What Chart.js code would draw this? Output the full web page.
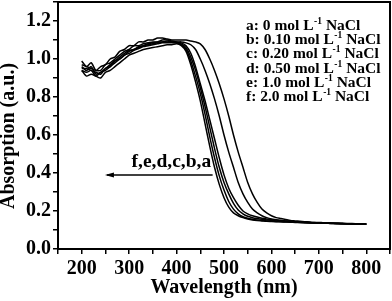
<!DOCTYPE html>
<html>
<head>
<meta charset="utf-8">
<script src="https://cdn.jsdelivr.net/npm/chart.js@4"></script>
<style>
  html, body { margin: 0; padding: 0; background: #fff; }
  #wrap { width: 392px; height: 301px; }
</style>
</head>
<body>
<div id="wrap"><canvas id="chart"></canvas></div>
<script>
// wavelength grid (nm), 200..800 every 10 nm
const wavelength = [
  200, 210, 220, 230, 240, 250, 260, 270, 280, 290,
  300, 310, 320, 330, 340, 350, 360, 370, 380, 390,
  400, 410, 420, 430, 440, 450, 460, 470, 480, 490,
  500, 510, 520, 530, 540, 550, 560, 570, 580, 590,
  600, 610, 620, 630, 640, 650, 660, 670, 680, 690,
  700, 710, 720, 730, 740, 750, 760, 770, 780, 790, 800
];

// absorption of each sample
const absA = [
  0.99, 0.96, 0.98, 0.94, 0.96, 0.97, 1.00, 1.01, 1.04, 1.05,
  1.07, 1.07, 1.09, 1.09, 1.10, 1.10, 1.11, 1.11, 1.105, 1.10,
  1.10, 1.10, 1.10, 1.095, 1.09, 1.08, 1.05, 1.00, 0.94, 0.87,
  0.79, 0.70, 0.60, 0.51, 0.43, 0.35, 0.29, 0.245, 0.21, 0.19,
  0.175, 0.165, 0.16, 0.155, 0.15, 0.148, 0.146, 0.144, 0.142, 0.14,
  0.14, 0.138, 0.138, 0.136, 0.136, 0.135, 0.134, 0.134, 0.133, 0.132, 0.132
];
const absB = [
  0.97, 0.96, 0.95, 0.94, 0.94, 0.97, 0.98, 1.00, 1.02, 1.04,
  1.05, 1.07, 1.07, 1.08, 1.085, 1.09, 1.09, 1.10, 1.10, 1.095,
  1.09, 1.09, 1.085, 1.075, 1.05, 1.00, 0.94, 0.87, 0.79, 0.70,
  0.60, 0.51, 0.43, 0.35, 0.29, 0.245, 0.21, 0.19, 0.175, 0.165,
  0.158, 0.154, 0.15, 0.147, 0.145, 0.143, 0.141, 0.14, 0.139, 0.138,
  0.137, 0.136, 0.135, 0.135, 0.134, 0.133, 0.133, 0.132, 0.132, 0.131, 0.131
];
const absC = [
  0.96, 0.94, 0.96, 0.92, 0.93, 0.95, 0.97, 0.99, 1.01, 1.03,
  1.045, 1.05, 1.065, 1.07, 1.08, 1.085, 1.09, 1.09, 1.095, 1.09,
  1.09, 1.085, 1.07, 1.03, 0.96, 0.87, 0.78, 0.68, 0.58, 0.48,
  0.39, 0.32, 0.27, 0.23, 0.20, 0.185, 0.175, 0.168, 0.162, 0.158,
  0.155, 0.152, 0.15, 0.148, 0.146, 0.144, 0.142, 0.141, 0.14, 0.139,
  0.138, 0.137, 0.136, 0.135, 0.135, 0.134, 0.133, 0.133, 0.132, 0.132, 0.131
];
const absD = [
  0.95, 0.95, 0.94, 0.93, 0.92, 0.95, 0.96, 0.99, 1.00, 1.02,
  1.04, 1.05, 1.06, 1.07, 1.075, 1.08, 1.085, 1.09, 1.09, 1.09,
  1.085, 1.08, 1.06, 1.01, 0.94, 0.85, 0.75, 0.64, 0.53, 0.43,
  0.35, 0.29, 0.24, 0.205, 0.185, 0.172, 0.165, 0.16, 0.156, 0.153,
  0.15, 0.148, 0.146, 0.145, 0.144, 0.142, 0.141, 0.14, 0.139, 0.138,
  0.137, 0.136, 0.136, 0.135, 0.134, 0.134, 0.133, 0.132, 0.132, 0.131, 0.131
];
const absE = [
  0.94, 0.93, 0.94, 0.91, 0.93, 0.94, 0.96, 0.98, 1.00, 1.02,
  1.03, 1.045, 1.055, 1.065, 1.07, 1.075, 1.08, 1.085, 1.085, 1.085,
  1.085, 1.075, 1.05, 0.99, 0.91, 0.82, 0.71, 0.59, 0.48, 0.385,
  0.31, 0.25, 0.21, 0.185, 0.17, 0.162, 0.157, 0.153, 0.15, 0.148,
  0.146, 0.145, 0.144, 0.143, 0.142, 0.141, 0.14, 0.139, 0.138, 0.137,
  0.136, 0.136, 0.135, 0.134, 0.134, 0.133, 0.133, 0.132, 0.131, 0.131, 0.13
];
const absF = [
  0.94, 0.91, 0.92, 0.91, 0.90, 0.93, 0.94, 0.96, 0.98, 1.00,
  1.02, 1.03, 1.04, 1.05, 1.055, 1.06, 1.065, 1.07, 1.075, 1.075,
  1.08, 1.07, 1.04, 0.97, 0.88, 0.78, 0.66, 0.54, 0.43, 0.34,
  0.27, 0.22, 0.19, 0.175, 0.165, 0.158, 0.153, 0.15, 0.148, 0.146,
  0.145, 0.144, 0.143, 0.142, 0.141, 0.14, 0.139, 0.138, 0.137, 0.137,
  0.136, 0.135, 0.135, 0.134, 0.133, 0.133, 0.132, 0.132, 0.131, 0.13, 0.13
];

const sampleLetters = ["a", "b", "c", "d", "e", "f"];
const naclConc = ["0", "0.10", "0.20", "0.50", "1.0", "2.0"];
const seriesValues = [absA, absB, absC, absD, absE, absF];
const arrowLabel = "f,e,d,c,b,a";
const yTitle = "Absorption (a.u.)";

const SERIF = "'Liberation Serif', 'Times New Roman', serif";

// frame, y title, legend block + shift arrow, drawn after the datasets
const annotations = {
  id: "annotations",
  afterDraw(chart) {
    const { ctx, chartArea, scales } = chart;
    ctx.save();

    ctx.strokeStyle = "#000";
    ctx.lineWidth = 2;
    ctx.strokeRect(chartArea.left, chartArea.top,
      chartArea.right - chartArea.left, chartArea.bottom - chartArea.top);

    // y title sits a bit below the middle of the axis in the figure
    ctx.fillStyle = "#000";
    ctx.save();
    ctx.translate(9, 136);
    ctx.rotate(-Math.PI / 2);
    ctx.font = "bold 20px " + SERIF;
    ctx.textAlign = "center";
    ctx.textBaseline = "middle";
    ctx.fillText(yTitle, 0, 0);
    ctx.restore();

    // legend with superscript units
    ctx.textBaseline = "alphabetic";
    const big = "bold 15.5px " + SERIF;
    const small = "bold 9.5px " + SERIF;
    sampleLetters.forEach((letter, i) => {
      let x = 246;
      const y = 30 + i * 14.2;
      ctx.font = big;
      const head = letter + ": " + naclConc[i] + " mol L";
      ctx.fillText(head, x, y);
      x += ctx.measureText(head).width + 0.5;
      ctx.font = small;
      ctx.fillText("-1", x, y - 6);
      x += ctx.measureText("-1").width;
      ctx.font = big;
      ctx.fillText(" NaCl", x, y);
    });

    // arrow showing the shift of the edge
    const x0 = scales.x.getPixelForValue(249);
    const x1 = scales.x.getPixelForValue(476);
    const ya = scales.y.getPixelForValue(0.39);
    ctx.lineWidth = 1.5;
    ctx.beginPath();
    ctx.moveTo(x1, ya);
    ctx.lineTo(x0 + 2, ya);
    ctx.stroke();
    ctx.beginPath();
    ctx.moveTo(x0, ya);
    ctx.lineTo(x0 + 9, ya - 2.5);
    ctx.lineTo(x0 + 9, ya + 2.5);
    ctx.closePath();
    ctx.fill();

    ctx.font = "bold 19.5px " + SERIF;
    ctx.textAlign = "left";
    ctx.fillText(arrowLabel, scales.x.getPixelForValue(305), scales.y.getPixelForValue(0.433));
    ctx.restore();
  }
};

const datasets = seriesValues.map((vals, i) => ({
  label: sampleLetters[i],
  data: wavelength.map((w, j) => ({ x: w, y: vals[j] })),
  borderColor: "#000",
  borderWidth: 1.5,
  pointRadius: 0,
  tension: 0.25,
  fill: false
}));

const tickFont = { family: SERIF, size: 20, weight: "bold" };

new Chart(document.getElementById("chart"), {
  type: "line",
  data: { datasets },
  plugins: [annotations],
  options: {
    responsive: true,
    maintainAspectRatio: false,
    animation: false,
    layout: { padding: { top: 2, right: 2, left: 0, bottom: 0 } },
    plugins: { legend: { display: false }, tooltip: { enabled: false } },
    scales: {
      x: {
        type: "linear",
        min: 150,
        max: 850,
        // fixed box so the plot area lands where it does in the figure
        afterFit: (s) => { s.height = 52; s.paddingLeft = 0; s.paddingRight = 0; },
        border: { display: true, color: "#000", width: 2 },
        grid: { drawOnChartArea: false, drawTicks: true, tickLength: 5, color: "#000", lineWidth: 1.5 },
        ticks: {
          stepSize: 50,
          color: "#000",
          font: tickFont,
          padding: 3,
          maxRotation: 0,
          autoSkip: false,
          callback: (v) => (v % 100 === 0 && v >= 200 && v <= 800 ? String(v) : "")
        },
        title: {
          display: true,
          text: "Wavelength (nm)",
          color: "#000",
          font: { family: SERIF, size: 20, weight: "bold", lineHeight: 1.2 },
          padding: { top: 0, bottom: 1 }
        }
      },
      y: {
        min: 0,
        max: 1.3,
        afterFit: (s) => { s.width = 58; s.paddingTop = 0; s.paddingBottom = 0; },
        border: { display: true, color: "#000", width: 2 },
        grid: { drawOnChartArea: false, drawTicks: true, tickLength: 5, color: "#000", lineWidth: 1.5 },
        ticks: {
          stepSize: 0.1,
          color: "#000",
          font: tickFont,
          padding: 2,
          autoSkip: false,
          callback: (v) => (Math.round(v * 10) % 2 === 0 && v < 1.25 ? v.toFixed(1) : "")
        },
        title: { display: false }
      }
    }
  }
});
</script>
</body>
</html>
